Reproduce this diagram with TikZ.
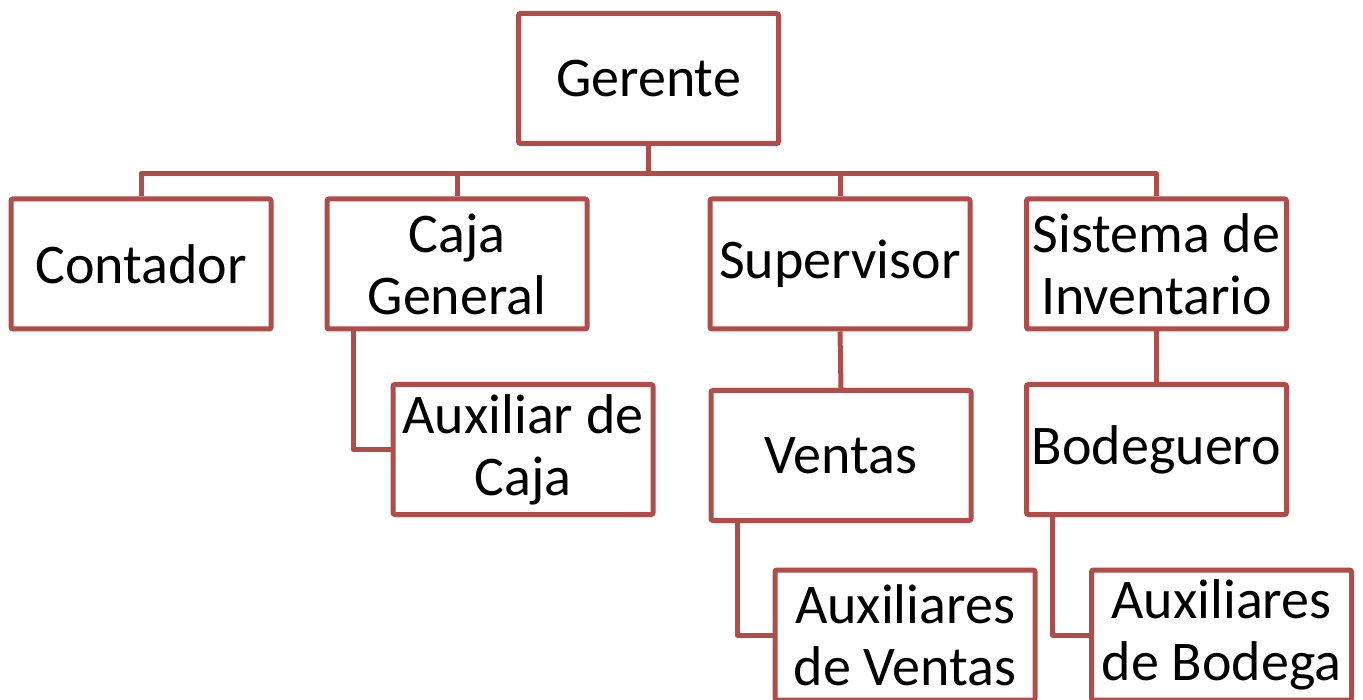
\documentclass[tikz,border=0pt]{standalone}
\usepackage{fontspec}
\setmainfont{Carlito}
\usepackage{tikz}
\usepackage{xcolor}
\definecolor{boxred}{RGB}{178,76,73}
\tikzset{
    org-box/.style = {draw=boxred, fill=white, line width=5pt, rectangle, rounded corners=2pt, minimum width=260pt, minimum height=130pt, inner sep=0pt, align=center, font=\fontsize{56}{62}\selectfont},
    org-link/.style = {draw=boxred, line width=5pt, line join=round},
}

\begin{document}
\begin{tikzpicture}[x=1pt, y=-1pt]
\useasboundingbox (0,0) rectangle (1363,700);
\node [org-box] (gerente) at (648.5,78.5) {Gerente};
\node [org-box] (contador) at (141,264) {Contador};
\node [org-box] (caja) at (457,264) {Caja\\General};
\node [org-box] (supervisor) at (840,264) {Supervisor};
\node [org-box] (sistema) at (1156.5,264) {Sistema de\\Inventario};
\node [org-box] (auxcaja) at (523,449.5) {Auxiliar de\\Caja};
\node [org-box] (ventas) at (841,455.5) {Ventas};
\node [org-box] (bodeguero) at (1156.5,449.5) {Bodeguero};
\node [org-box] (auxventas) at (905,635) {Auxiliares\\de Ventas};
\node [org-box] (auxbodega) at (1221.5,635) {Auxiliares\\de Bodega};
\draw [org-link] (gerente.south) -- ++(0,27.5) coordinate (bus);
\draw [org-link] (bus) -| (contador.north);
\draw [org-link] (bus) -| (caja.north);
\draw [org-link] (bus) -| (supervisor.north);
\draw [org-link] (bus) -| (sistema.north);
\draw [org-link] ([xshift=-104pt]caja.south) |- (auxcaja.west);
\draw [org-link] (supervisor.south) -- (ventas.north);
\draw [org-link] ([xshift=-104pt]ventas.south) |- (auxventas.west);
\draw [org-link] (sistema.south) -- (bodeguero.north);
\draw [org-link] ([xshift=-104pt]bodeguero.south) |- (auxbodega.west);
\end{tikzpicture}
\end{document}
